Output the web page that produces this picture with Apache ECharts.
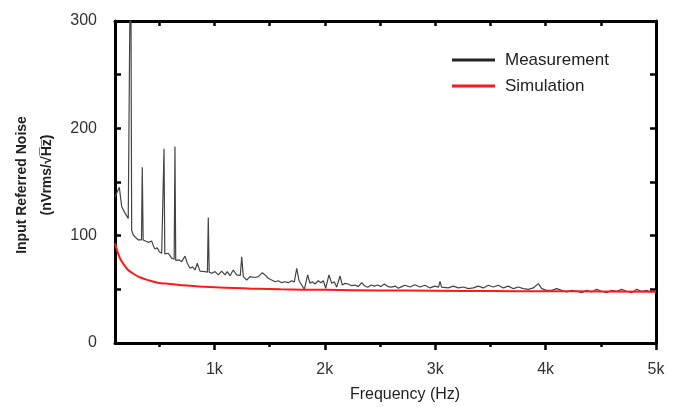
<!DOCTYPE html>
<html>
<head>
<meta charset="utf-8">
<script src="https://cdn.jsdelivr.net/npm/echarts@6/dist/echarts.min.js"></script>
<style>
html,body{margin:0;padding:0;background:#fff;}
#chart{width:679px;height:407px;}
</style>
</head>
<body>
<div id="chart"></div>
<script>
// Measurement (frequency in Hz, noise in nVrms/sqrt(Hz))
const measFreq = [100,139,161,191,220,236,242,251,266,290,311,326,340,347,355,372,402,432,447,462,483,501,523,537,544,551,562,583,613,636,643,650,659,682,704,734,755,779,804,825,845,870,915,937,945,953,976,1006,1036,1066,1096,1117,1142,1171,1202,1235,1248,1262,1293,1323,1368,1398,1413,1434,1459,1488,1519,1549,1579,1610,1640,1670,1700,1724,1746,1767,1791,1815,1845,1866,1887,1911,1941,1966,1987,2008,2038,2063,2086,2108,2138,2159,2183,2213,2243,2274,2304,2334,2358,2389,2419,2449,2479,2509,2539,2575,2606,2636,2666,2697,2726,2772,2817,2862,2908,2953,2998,3030,3044,3058,3074,3119,3164,3209,3255,3300,3345,3390,3436,3481,3526,3572,3617,3662,3708,3753,3798,3844,3889,3934,3965,4010,4055,4100,4146,4191,4236,4281,4327,4372,4417,4462,4508,4553,4598,4643,4689,4734,4779,4825,4870,4915,4960,5000];
const measVal  = [136,145,127,121,116,115,400,105,100.6,98,96,97.6,96,163.7,96,96,93.8,95,90.7,87.6,88.8,85,83.6,83,181,83,82,83.6,79,78,183,77,75.8,77.4,75.8,81,74.3,69.6,71,68,74.3,67,66.5,66,117,66,65,66.5,63.4,67,63.4,66.5,62.7,68,63.4,63,80.4,61.8,58.7,61.8,61,61.8,62.4,65.5,63.4,60.3,58.7,57.1,58,56.2,57.1,56.2,58,57,69.6,58,54,50,63.4,55.6,57,55,58,56.2,58,51,63.4,55.6,57,52,62.4,54,55.6,55,53.4,54,52.5,56.2,53.4,52,54,53,54,52.5,55,52.5,52,53,51,52.5,53.8,52.2,54.3,52.2,53.8,51.3,53,52,57.5,52,52.2,51.3,53,51.3,52.2,50.6,51.3,53,51.3,53.8,52.2,53.8,51.3,53,50.6,52.2,50.6,50,51.3,55.3,50.6,49,49,50.6,49,47.5,49,48.2,46.9,49,47.5,50,48.2,46.9,49,48.2,50,48.2,46.9,50,48.2,49,47.5,49];
// Simulation
const simFreq = [100,120,145,175,210,260,330,420,500,600,750,900,1100,1300,1600,2000,2500,3000,3500,4000,4500,5000];
const simVal  = [93,86,79,74,69,65,61,58,56,55,53.5,52.5,51.5,50.8,50,49.5,49,48.7,48.4,48.2,48,47.8];
// Axis ticks / labels
const xMajor = [1000,2000,3000,4000,5000];
const xMinor = [500,1500,2500,3500,4500];
const xAll   = [500,1000,1500,2000,2500,3000,3500,4000,4500,5000];
const seriesNames = ['Measurement','Simulation'];

const measData = measFreq.map((f,i)=>[f,measVal[i]]);
const simData  = simFreq.map((f,i)=>[f,simVal[i]]);

const FONT = '"Liberation Sans", Arial, sans-serif';
const chart = echarts.init(document.getElementById('chart'), null, {renderer:'canvas'});
const frame = {show:true, lineStyle:{color:'#000', width:3}};
const baseX = {type:'value', min:100, max:5000, splitLine:{show:false}};
chart.setOption({
  animation:false,
  backgroundColor:'#fff',
  grid:{left:115, right:23, top:21, bottom:64},
  legend:{
    data:seriesNames, orient:'vertical', left:452, top:50, padding:0,
    icon:'rect', itemWidth:43, itemHeight:3, itemGap:6,
    textStyle:{fontFamily:FONT, fontSize:17, color:'#222', lineHeight:20, padding:[0,0,0,5]}
  },
  xAxis:[
    Object.assign({}, baseX, {position:'bottom', axisLine:frame,
      axisTick:{show:true, customValues:xMajor, length:7, lineStyle:{color:'#000', width:2.5}},
      axisLabel:{show:true, customValues:xMajor, formatter:v=>(v/1000)+'k', margin:19, fontFamily:FONT, fontSize:16, color:'#333'}}),
    Object.assign({}, baseX, {position:'bottom', axisLine:{show:false},
      axisTick:{show:true, customValues:xMinor, length:4, lineStyle:{color:'#000', width:2.5}},
      axisLabel:{show:false}}),
    Object.assign({}, baseX, {position:'top', axisLine:frame,
      axisTick:{show:true, inside:true, customValues:xAll, length:5, lineStyle:{color:'#000', width:2.5}},
      axisLabel:{show:false}})
  ],
  yAxis:[
    {type:'value', min:0, max:300, interval:50, position:'left', axisLine:frame, splitLine:{show:false},
      axisTick:{show:true, inside:true, length:6, lineStyle:{color:'#000', width:2.5}},
      axisLabel:{formatter:v=>(v%100===0?String(v):''), margin:18, fontFamily:FONT, fontSize:16, color:'#333'}},
    {type:'value', min:0, max:300, interval:50, position:'right', axisLine:frame, splitLine:{show:false},
      axisTick:{show:true, inside:true, length:6, lineStyle:{color:'#000', width:2.5}},
      axisLabel:{show:false}}
  ],
  graphic:[
    {type:'text', x:405, y:395, style:{text:'Frequency (Hz)', fontFamily:FONT, fontSize:16, fill:'#222', align:'center', verticalAlign:'middle'}},
    {type:'text', x:22, y:185, rotation:Math.PI/2, style:{text:'Input Referred Noise', fontFamily:FONT, fontSize:14, fontWeight:'bold', fill:'#222', align:'center', verticalAlign:'middle'}},
    {type:'text', x:47, y:175, rotation:Math.PI/2, style:{text:'(nVrms/\u221AH\u0305z\u0305)', fontFamily:FONT, fontSize:14, fontWeight:'bold', fill:'#222', align:'center', verticalAlign:'middle'}}
  ],
  series:[
    {name:seriesNames[0], type:'line', data:measData, xAxisIndex:0, yAxisIndex:0, showSymbol:false, symbol:'none', clip:true,
      color:'#222', lineStyle:{color:'#444', width:1.2}, z:2},
    {name:seriesNames[1], type:'line', data:simData, xAxisIndex:0, yAxisIndex:0, showSymbol:false, symbol:'none', smooth:true, clip:true,
      color:'#ff1a1a', lineStyle:{color:'#ff1a1a', width:2}, z:3}
  ]
});
</script>
</body>
</html>
